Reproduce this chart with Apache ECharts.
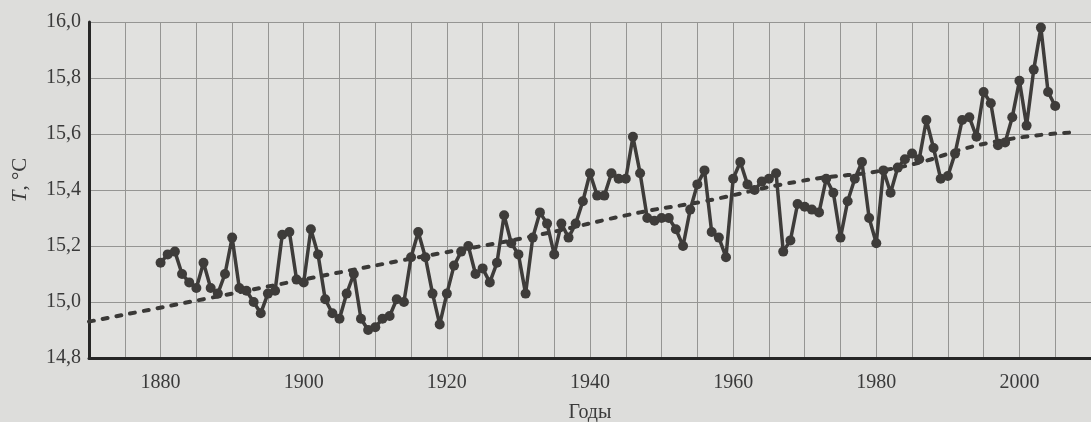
<!DOCTYPE html>
<html><head><meta charset="utf-8">
<script src="https://cdn.jsdelivr.net/npm/echarts@6/dist/echarts.min.js"></script>
<style>html,body{margin:0;padding:0;background:#dddddb;}#c{width:1091px;height:422px;}</style>
</head><body><div id="c"></div>
<script>
// Annual mean temperature, T (°C), 1880–2005
const startYear = 1880;
const temps = [
  15.14,15.17,15.18,15.10,15.07,15.05,15.14,15.05,15.03,15.10, // 1880s
  15.23,15.05,15.04,15.00,14.96,15.03,15.04,15.24,15.25,15.08, // 1890s
  15.07,15.26,15.17,15.01,14.96,14.94,15.03,15.10,14.94,14.90, // 1900s
  14.91,14.94,14.95,15.01,15.00,15.16,15.25,15.16,15.03,14.92, // 1910s
  15.03,15.13,15.18,15.20,15.10,15.12,15.07,15.14,15.31,15.21, // 1920s
  15.17,15.03,15.23,15.32,15.28,15.17,15.28,15.23,15.28,15.36, // 1930s
  15.46,15.38,15.38,15.46,15.44,15.44,15.59,15.46,15.30,15.29, // 1940s
  15.30,15.30,15.26,15.20,15.33,15.42,15.47,15.25,15.23,15.16, // 1950s
  15.44,15.50,15.42,15.40,15.43,15.44,15.46,15.18,15.22,15.35, // 1960s
  15.34,15.33,15.32,15.44,15.39,15.23,15.36,15.44,15.50,15.30, // 1970s
  15.21,15.47,15.39,15.48,15.51,15.53,15.51,15.65,15.55,15.44, // 1980s
  15.45,15.53,15.65,15.66,15.59,15.75,15.71,15.56,15.57,15.66, // 1990s
  15.79,15.63,15.83,15.98,15.75,15.70                           // 2000s
];
// Trend line, points
const trendYears = [1870, 1886, 1914, 1931, 1947, 1956, 1969, 1983, 1996, 2007];
const trendTemps = [14.93, 15.01, 15.15, 15.23, 15.32, 15.36, 15.43, 15.48, 15.57, 15.605];
// Axes
const xMin = 1870, xMax = 2010, xStep = 5, xLabelStep = 20, xFirstLabel = 1880;
const yMin = 14.8, yMax = 16.0, yStep = 0.2;
const xTitle = 'Годы';

const series1 = temps.map((v, i) => [startYear + i, v]);
const trend = trendYears.map((y, i) => [y, trendTemps[i]]);

const font = '"Liberation Serif","DejaVu Serif",serif';
const chart = echarts.init(document.getElementById('c'), null, {renderer: 'canvas'});
chart.setOption({
  backgroundColor: '#dddddb',
  animation: false,
  grid: {left: 89, right: 0, top: 22, bottom: 64, containLabel: false, outerBoundsMode: 'none',
         show: true, backgroundColor: '#e1e1df', borderWidth: 0},
  xAxis: {
    type: 'value', min: xMin, max: xMax, interval: xStep,
    name: xTitle, nameLocation: 'middle', nameGap: 45,
    nameTextStyle: {fontFamily: font, fontSize: 20, color: '#3a3a3a'},
    axisLine: {show: true, onZero: false, lineStyle: {color: '#262626', width: 3}},
    axisTick: {show: false},
    axisLabel: {fontFamily: font, fontSize: 20, color: '#3a3a3a', margin: 15,
      formatter: v => (v >= xFirstLabel && (v - xFirstLabel) % xLabelStep === 0) ? String(v) : ''},
    splitLine: {show: true, lineStyle: {color: '#959593', width: 1}}
  },
  yAxis: {
    type: 'value', min: yMin, max: yMax, interval: yStep,
    name: '{i|T}, °C', nameLocation: 'middle', nameGap: 58, nameRotate: 90,
    nameTextStyle: {fontFamily: font, fontSize: 21, color: '#3a3a3a', padding: [0, 0, 0, 20],
      rich: {i: {fontFamily: font, fontSize: 21, fontStyle: 'italic', color: '#3a3a3a'}}},
    axisLine: {show: true, onZero: false, lineStyle: {color: '#262626', width: 3}},
    axisTick: {show: false},
    axisLabel: {fontFamily: font, fontSize: 20, color: '#3a3a3a', margin: 8,
      formatter: v => v.toFixed(1).replace('.', ',')},
    splitLine: {show: true, lineStyle: {color: '#959593', width: 1}}
  },
  series: [
    {type: 'line', data: trend, smooth: true, symbol: 'none', z: 2,
     lineStyle: {color: '#3a3937', width: 4, type: [5, 9], cap: 'round'}},
    {type: 'line', data: series1, symbol: 'circle', symbolSize: 10, z: 3,
     lineStyle: {color: '#3e3c3a', width: 3.5},
     itemStyle: {color: '#3e3c3a', borderWidth: 0}}
  ]
});
</script></body></html>
